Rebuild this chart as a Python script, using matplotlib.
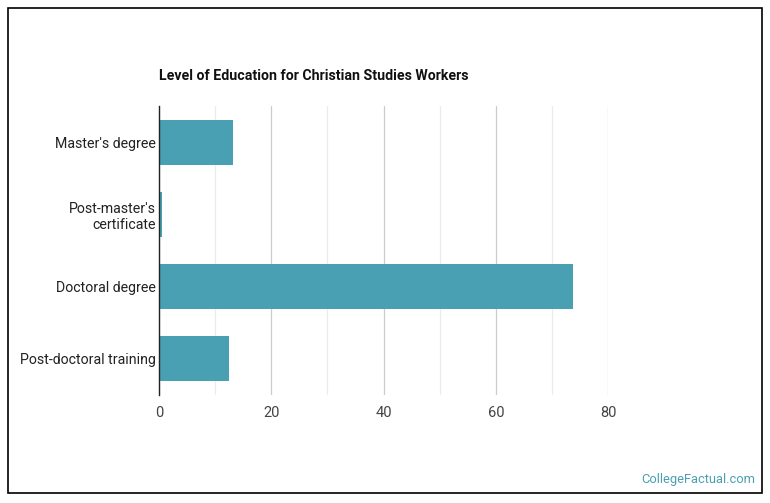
import matplotlib.pyplot as plt
from matplotlib.patches import Rectangle

# data
levels = ["Master's degree", "Post-master's\ncertificate", "Doctoral degree", "Post-doctoral training"]
shares = [13.2, 0.6, 73.8, 12.5]
x_ticks = [0, 20, 40, 60, 80]

bar_color = '#4aa0b3'
plt.rcParams['font.family'] = ['Roboto', 'DejaVu Sans']

fig = plt.figure(figsize=(7.7, 5.03), dpi=100)
ax = fig.add_axes([159 / 770, (503 - 395) / 503, (608 - 159) / 770, (395 - 106) / 503])

ax.barh(range(len(levels)), shares, height=0.62, color=bar_color, zorder=3)

ax.set_ylim(3.5, -0.5)
ax.set_xlim(0, 80)
ax.set_yticks(range(len(levels)))
ax.set_yticklabels(levels, fontsize=10.2, color='#222222')
ax.set_xticks(x_ticks)
ax.set_xticklabels([str(t) for t in x_ticks], fontsize=10.5, color='#444444')
ax.set_xticks([10, 30, 50, 70], minor=True)

# gridlines
ax.grid(axis='x', which='major', color='#cccccc', lw=0.9, zorder=0)
ax.grid(axis='x', which='minor', color='#ebebeb', lw=0.9, zorder=0)
ax.tick_params(axis='both', which='both', length=0, pad=2)
ax.tick_params(axis='x', pad=8)

for s in ['top', 'right', 'bottom']:
    ax.spines[s].set_visible(False)
ax.spines['left'].set_color('#222222')
ax.spines['left'].set_linewidth(1.0)
ax.spines['left'].set_zorder(4)

fig.text(159 / 770, 1 - 76 / 503, 'Level of Education for Christian Studies Workers',
         fontsize=10.15, fontweight='bold', color='#111111', va='center', ha='left')
fig.text(755 / 770, 1 - 480 / 503, 'CollegeFactual.com', fontsize=9.3,
         color='#4a9fb0', va='center', ha='right')

# outer frame
fig.patches.append(Rectangle((8 / 770, 10 / 503), 754 / 770, 485 / 503,
                             transform=fig.transFigure, fill=False,
                             edgecolor='black', lw=1.2))

fig.savefig('out.png', dpi=100)
print('done')
